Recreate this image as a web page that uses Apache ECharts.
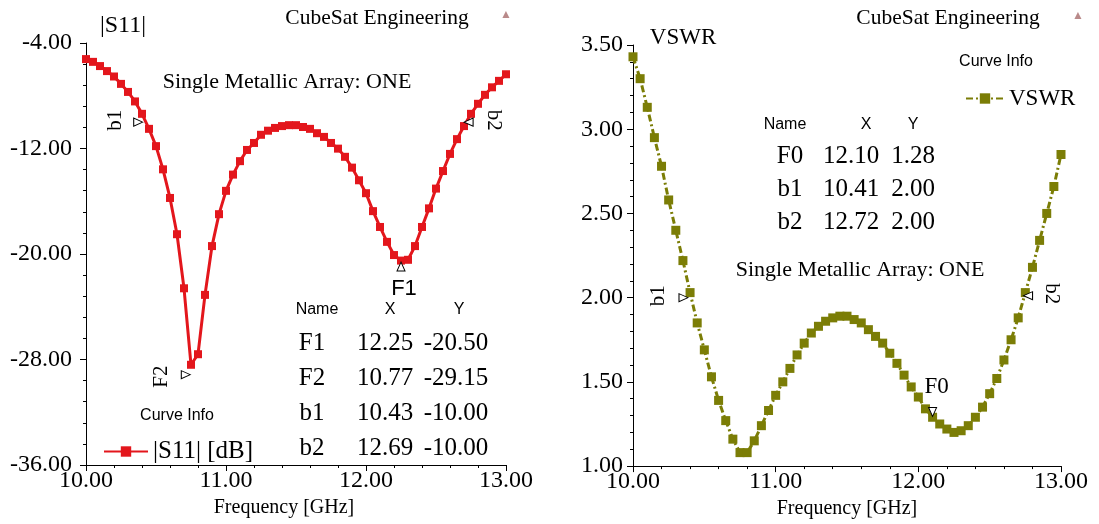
<!DOCTYPE html>
<html>
<head>
<meta charset="utf-8">
<script src="https://cdn.jsdelivr.net/npm/echarts@6/dist/echarts.min.js"></script>
<style>
  html, body { margin: 0; background: #fff; }
  #chart { width: 1099px; height: 524px; }
</style>
</head>
<body>
<div id="chart"></div>
<script>
// frequency sweep, GHz
const freqs = [
  10.00, 10.05, 10.10, 10.15, 10.20, 10.25, 10.30, 10.35, 10.40, 10.45,
  10.50, 10.55, 10.60, 10.65, 10.70, 10.75, 10.80, 10.85, 10.90, 10.95,
  11.00, 11.05, 11.10, 11.15, 11.20, 11.25, 11.30, 11.35, 11.40, 11.45,
  11.50, 11.55, 11.60, 11.65, 11.70, 11.75, 11.80, 11.85, 11.90, 11.95,
  12.00, 12.05, 12.10, 12.15, 12.20, 12.25, 12.30, 12.35, 12.40, 12.45,
  12.50, 12.55, 12.60, 12.65, 12.70, 12.75, 12.80, 12.85, 12.90, 12.95, 13.00,
];

// |S11| in dB
const s11 = [
  -5.22, -5.43, -5.75, -6.13, -6.54, -7.10, -7.71, -8.43, -9.37, -10.51,
  -11.82, -13.58, -15.75, -18.50, -22.60, -28.40, -27.60, -23.10, -19.40, -16.98,
  -15.21, -13.98, -12.96, -12.11, -11.58, -10.96, -10.65, -10.44, -10.30, -10.23,
  -10.23, -10.37, -10.51, -10.84, -11.12, -11.58, -12.01, -12.63, -13.45, -14.41,
  -15.39, -16.75, -17.95, -19.08, -20.08, -20.50, -20.44, -19.40, -17.95, -16.54,
  -15.04, -13.71, -12.41, -11.29, -10.30, -9.37, -8.61, -7.93, -7.36, -6.87, -6.37,
];

const vswr = [
  3.43, 3.30, 3.13, 2.95, 2.78, 2.58, 2.40, 2.22, 2.03, 1.85,
  1.69, 1.53, 1.39, 1.27, 1.16, 1.08, 1.08, 1.15, 1.24, 1.33,
  1.42, 1.50, 1.58, 1.66, 1.73, 1.79, 1.83, 1.86, 1.88, 1.89,
  1.89, 1.87, 1.85, 1.81, 1.77, 1.73, 1.67, 1.61, 1.54, 1.47,
  1.41, 1.34, 1.29, 1.25, 1.22, 1.20, 1.21, 1.24, 1.29, 1.35,
  1.43, 1.52, 1.63, 1.75, 1.88, 2.03, 2.18, 2.34, 2.50, 2.66, 2.85,
];

// marker tables: [name, x, y]
const s11Markers = [
  ["F1", 12.25, -20.50],
  ["F2", 10.77, -29.15],
  ["b1", 10.43, -10.00],
  ["b2", 12.69, -10.00],
];
const vswrMarkers = [
  ["F0", 12.10, 1.28],
  ["b1", 10.41, 2.00],
  ["b2", 12.72, 2.00],
];

const s11Ticks = [-36, -28, -20, -12, -4];
const s11MinorTicks = [];
for (let i = 0; i < s11Ticks.length - 1; i++) {
  for (let k = 1; k < 5; k++) s11MinorTicks.push(s11Ticks[i] + k * 1.6);
}

const RED = "#e3161c";
const OLIVE = "#7b7d06";
const SERIF = "Liberation Serif";
const SANS = "Liberation Sans";

// triangle + label placement per marker; label offsets are in the
// label's rotated frame (rotate 90: [0,-d] moves left; rotate -90: [0,-d] moves right)
const markerLook = {
  s11: {
    F1: { rot: 0, off: [0, 6], label: [3, 22], lrot: 0, font: SANS, size: 22 },
    F2: { rot: -90, off: [-8, 0], label: [-2, -24], lrot: 90 },
    b1: { rot: -90, off: [-8, 0], label: [2, -23], lrot: 90 },
    b2: { rot: 90, off: [6, 0], label: [-2, -25], lrot: -90 },
  },
  vswr: {
    F0: { rot: 180, off: [0, -7], label: [4, -25], lrot: 0, size: 23 },
    b1: { rot: -90, off: [-8, 0], label: [2, -25], lrot: 90 },
    b2: { rot: 90, off: [7, -2], label: [-2, -23], lrot: -90 },
  },
};

function markPoints(list, look) {
  return list.map(([name, x, y]) => {
    const m = look[name];
    return {
      name,
      coord: [x, y],
      symbol: "triangle",
      symbolSize: [8, 9],
      symbolRotate: m.rot,
      symbolOffset: m.off,
      itemStyle: { color: "#fff", borderColor: "#000", borderWidth: 1 },
      label: {
        show: true,
        formatter: name,
        position: "inside",
        offset: m.label,
        rotate: m.lrot,
        color: "#000",
        fontFamily: m.font || SERIF,
        fontSize: m.size || 21,
      },
    };
  });
}

function tableTexts(list, headXs, rowXs, y0, firstGap, dy) {
  const out = [];
  ["Name", "X", "Y"].forEach((h, i) =>
    out.push(label(h, headXs[i], y0, 16, SANS)),
  );
  list.forEach((row, r) => {
    const cells = [row[0], row[1].toFixed(2), row[2].toFixed(2)];
    cells.forEach((c, i) => out.push(label(c, rowXs[i], y0 + firstGap + r * dy, 25, SERIF)));
  });
  return out;
}

function label(text, x, y, size, family, extra) {
  return {
    type: "text", x, y,
    style: Object.assign(
      { text, font: `${size}px ${family}`, fill: "#000", align: "center", verticalAlign: "middle" },
      extra || {},
    ),
  };
}

const axisText = { color: "#000", fontFamily: SERIF, fontSize: 24 };
const blackLine = { lineStyle: { color: "#000", width: 1 } };

const xAxisBase = (gridIndex, namePad) => ({
  type: "value",
  gridIndex,
  min: 10,
  max: 13,
  interval: 1,
  name: "Frequency [GHz]",
  nameLocation: "middle",
  nameGap: 28,
  nameTextStyle: { color: "#000", fontFamily: SERIF, fontSize: 20, padding: namePad },
  axisLine: { show: true, ...blackLine },
  axisTick: { show: true, length: 6, ...blackLine },
  minorTick: { show: true, splitNumber: 5, length: 3, ...blackLine },
  splitLine: { show: false },
  axisLabel: { ...axisText, margin: 4, formatter: (v) => v.toFixed(2) },
});

const chart = echarts.init(document.getElementById("chart"), null, { renderer: "canvas" });

chart.setOption({
  backgroundColor: "#fff",
  animation: false,
  grid: [
    { left: 86, top: 43, width: 420, height: 422 },
    { left: 633, top: 45, width: 428, height: 422 },
  ],
  xAxis: [xAxisBase(0, [0, 24, 0, 0]), xAxisBase(1, 0)],
  yAxis: [
    {
      type: "value",
      gridIndex: 0,
      min: -36,
      max: -4,
      axisLine: { show: true, ...blackLine },
      axisTick: { show: true, length: 6, customValues: s11Ticks, ...blackLine },
      splitLine: { show: false },
      axisLabel: { ...axisText, margin: 14, customValues: s11Ticks, formatter: (v) => v.toFixed(2) },
    },
    {
      type: "value",
      gridIndex: 0,
      min: -36,
      max: -4,
      position: "left",
      axisLine: { show: false },
      axisTick: { show: true, length: 3, customValues: s11MinorTicks, ...blackLine },
      splitLine: { show: false },
      axisLabel: { show: false },
    },
    {
      type: "value",
      gridIndex: 1,
      min: 1,
      max: 3.5,
      interval: 0.5,
      axisLine: { show: true, ...blackLine },
      axisTick: { show: true, length: 6, ...blackLine },
      minorTick: { show: true, splitNumber: 5, length: 3, ...blackLine },
      splitLine: { show: false },
      axisLabel: { ...axisText, margin: 10, formatter: (v) => v.toFixed(2) },
    },
  ],
  legend: [
    {
      data: ["|S11| [dB]"],
      left: 98,
      top: 434,
      itemWidth: 44,
      itemHeight: 13,
      itemGap: 10,
      textStyle: { color: "#000", fontFamily: SERIF, fontSize: 25 },
    },
    {
      data: ["VSWR"],
      left: 960,
      top: 82,
      itemWidth: 38,
      itemHeight: 13,
      textStyle: { color: "#000", fontFamily: SERIF, fontSize: 23 },
    },
  ],
  series: [
    {
      name: "|S11| [dB]",
      type: "line",
      xAxisIndex: 0,
      yAxisIndex: 0,
      data: freqs.map((f, i) => [f, s11[i]]),
      symbol: "rect",
      symbolSize: 8,
      showAllSymbol: true,
      lineStyle: { color: RED, width: 3 },
      itemStyle: { color: RED },
      markPoint: { silent: true, data: markPoints(s11Markers, markerLook.s11) },
      z: 3,
    },
    {
      name: "VSWR",
      type: "line",
      xAxisIndex: 1,
      yAxisIndex: 2,
      data: freqs.map((f, i) => [f, vswr[i]]),
      symbol: "rect",
      symbolSize: 9,
      showAllSymbol: true,
      lineStyle: { color: OLIVE, width: 3, type: [7, 3, 2, 3] },
      itemStyle: { color: OLIVE },
      markPoint: { silent: true, data: markPoints(vswrMarkers, markerLook.vswr) },
      z: 3,
    },
  ],
  graphic: [
    // left panel
    label("|S11|", 123, 26, 24, SERIF),
    label("CubeSat Engineering", 377, 18, 21.5, SERIF),
    label("\u25B2", 506, 15, 12, SANS, { fill: "#b98a8a" }),
    label("Single Metallic Array: ONE", 287, 82, 22, SERIF),
    label("Curve Info", 177, 416, 16, SANS),
    ...tableTexts(s11Markers, [317, 390, 459], [312, 385, 456], 310, 33, 35),
    // right panel
    label("VSWR", 683, 38, 23, SERIF),
    label("CubeSat Engineering", 948, 18, 21.5, SERIF),
    label("\u25B2", 1078, 16, 12, SANS, { fill: "#b98a8a" }),
    label("Curve Info", 996, 62, 16, SANS),
    ...tableTexts(vswrMarkers, [785, 866, 913], [790, 851, 913], 125, 31, 33),
    label("Single Metallic Array: ONE", 860, 270, 22, SERIF),
  ],
});
</script>
</body>
</html>
